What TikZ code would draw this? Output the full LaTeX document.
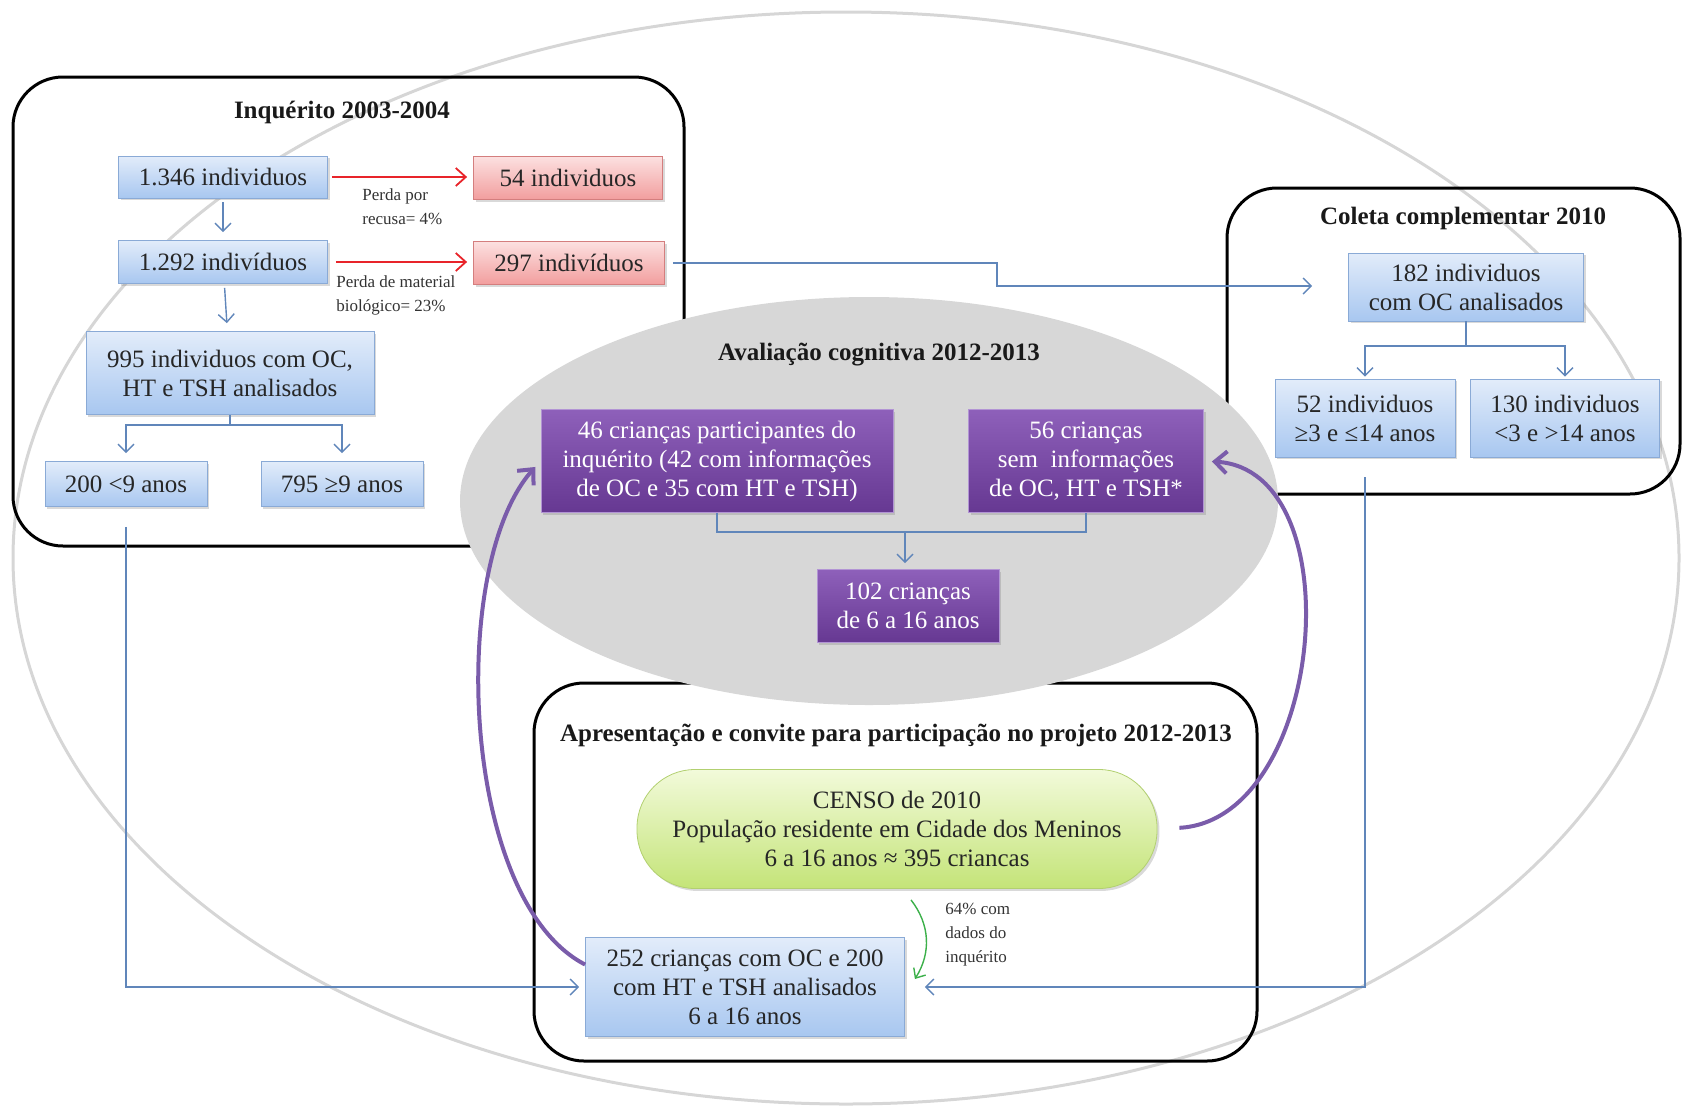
\documentclass[tikz,border=0pt]{standalone}
\usepackage{fontspec}
\setmainfont{Liberation Serif}
\usetikzlibrary{arrows.meta,shadows}

% colours
\definecolor{bluetop}{RGB}{226,236,250}
\definecolor{bluebot}{RGB}{168,199,240}
\definecolor{blueline}{RGB}{138,170,214}
\definecolor{redtop}{RGB}{252,224,224}
\definecolor{redbot}{RGB}{242,158,158}
\definecolor{redline}{RGB}{212,126,126}
\definecolor{purptop}{RGB}{142,96,186}
\definecolor{purpbot}{RGB}{102,56,146}
\definecolor{purpline}{RGB}{178,148,212}
\definecolor{purparrow}{RGB}{122,92,170}
\definecolor{greentop}{RGB}{242,250,218}
\definecolor{greenbot}{RGB}{196,228,120}
\definecolor{greenline}{RGB}{178,208,112}
\definecolor{connblue}{RGB}{96,134,186}
\definecolor{lossred}{RGB}{232,36,42}
\definecolor{okgreen}{RGB}{60,176,74}
\definecolor{outerring}{RGB}{214,214,214}
\definecolor{cogfill}{RGB}{215,215,215}

\tikzset{
  boxtext/.style={font=\rmfamily\fontsize{12.5}{14.5}\selectfont, align=center, inner sep=2pt},
  boxshadow/.style={drop shadow={shadow xshift=1.2pt, shadow yshift=-1.2pt, opacity=.3}},
  bluebox/.style={boxtext, boxshadow, draw=blueline, top color=bluetop, bottom color=bluebot, text=black!85},
  lossbox/.style={boxtext, boxshadow, draw=redline, top color=redtop, bottom color=redbot, text=black!85},
  cogbox/.style={boxtext, boxshadow, draw=purpline, top color=purptop, bottom color=purpbot, text=white},
  censobox/.style={boxtext, boxshadow, draw=greenline, top color=greentop, bottom color=greenbot, rounded corners=29pt, text=black!85},
  stage/.style={draw=black, line width=1.5pt, rounded corners=25pt},
  title/.style={font=\rmfamily\bfseries\fontsize{12.5}{14.5}\selectfont, text=black!90},
  note/.style={font=\rmfamily\fontsize{8.5}{12}\selectfont, align=left, text=black!80, inner sep=0pt, anchor=north west},
  conn/.style={draw=connblue, line width=0.7pt},
  flow/.style={conn, -{Straight Barb[length=4pt,width=8pt]}},
  loss/.style={draw=lossred, line width=0.9pt, -{Straight Barb[length=5pt,width=9pt]}},
  back/.style={draw=purparrow, line width=2pt, -{Straight Barb[length=6pt,width=11pt]}},
}

\begin{document}
\begin{tikzpicture}[x=0.5pt,y=-0.5pt]
\useasboundingbox (0,0) rectangle (1684,1108);

% outer ring
\draw[outerring, line width=1.5pt] (846,558) ellipse [x radius=416.5pt, y radius=273pt];

% study frames
\draw[stage] (13,77) rectangle (684,546);
\draw[stage] (1227,188) rectangle (1680,494);
\draw[stage] (534,683) rectangle (1257,1061);

% cognitive evaluation area
\fill[cogfill] (869,501) ellipse [x radius=204.5pt, y radius=102pt];

% Inquerito 2003-2004
\node[title] (tInq) at (342,112) {Inquérito 2003-2004};
\node[bluebox, minimum width=104.5pt, minimum height=21pt] (n1346) at (223,177) {1.346 individuos};
\node[lossbox, minimum width=94.5pt, minimum height=21.5pt] (n54) at (568,178) {54 individuos};
\node[bluebox, minimum width=104.5pt, minimum height=21.5pt] (n1292) at (223,262) {1.292 indivíduos};
\node[lossbox, minimum width=95.5pt, minimum height=21.5pt] (n297) at (569,263) {297 indivíduos};
\node[bluebox, minimum width=144pt, minimum height=41.5pt] (n995) at (230,373) {995 individuos com OC,\\HT e TSH analisados};
\node[bluebox, minimum width=81pt, minimum height=22.5pt] (n200) at (126,484) {200 <9 anos};
\node[bluebox, minimum width=81pt, minimum height=22.5pt] (n795) at (342,484) {795 ≥9 anos};
\node[note] (lossA) at (362,188) {Perda por\\recusa= 4\%};
\node[note] (lossB) at (336,275) {Perda de material\\biológico= 23\%};

% Coleta complementar 2010
\node[title] (tCol) at (1463,218) {Coleta complementar 2010};
\node[bluebox, minimum width=117.5pt, minimum height=34pt] (n182) at (1466,287) {182 individuos\\com OC analisados};
\node[bluebox, minimum width=90pt, minimum height=39pt] (n52) at (1365,418) {52 individuos\\≥3 e ≤14 anos};
\node[bluebox, minimum width=94.5pt, minimum height=39pt] (n130) at (1565,418) {130 individuos\\<3 e >14 anos};

% Avaliacao cognitiva 2012-2013
\node[title] (tCog) at (879,355) {Avaliação cognitiva 2012-2013};
\node[cogbox, minimum width=176pt, minimum height=51.5pt] (n46) at (717,461) {46 crianças participantes do\\inquérito (42 com informações\\de OC e 35 com HT e TSH)};
\node[cogbox, minimum width=117.5pt, minimum height=51.5pt] (n56) at (1086,461) {56 crianças\\sem~ informações\\de OC, HT e TSH*};
\node[cogbox, minimum width=91pt, minimum height=36.5pt] (n102) at (908,606) {102 crianças\\de 6 a 16 anos};

% Apresentacao e convite 2012-2013
\node[title] (tApr) at (896,735) {Apresentação e convite para participação no projeto 2012-2013};
\node[censobox, minimum width=260pt, minimum height=59.5pt] (censo) at (897,829) {CENSO de 2010\\População residente em Cidade dos Meninos\\6 a 16 anos ≈ 395 criancas};
\node[bluebox, minimum width=159.5pt, minimum height=49.5pt] (n252) at (745,987) {252 crianças com OC e 200\\com HT e TSH analisados\\6 a 16 anos};
\node[note] (note64) at (945,903) {64\% com\\dados do\\inquérito};

% waypoints
\coordinate (kink297) at (997,286);
\coordinate (split995) at (230,425);
\coordinate (split182) at (1466,346);
\coordinate (join46) at (905,532);

% losses
\draw[loss, shorten <=2pt, shorten >=3pt] (n1346.east) -- (n54.west |- n1346.east);
\draw[loss, shorten <=4pt, shorten >=3pt] (n1292.east) -- (n297.west |- n1292.east);

% blue flows
\draw[flow, shorten <=2pt, shorten >=4pt] (n1346) -- (n1292);
\draw[flow, shorten <=2pt, shorten >=4pt] (n1292) -- (n995);
\draw[conn] (n995.south) -- (split995);
\draw[flow, shorten >=4pt] (split995) -| (n200.north);
\draw[flow, shorten >=4pt] (split995) -| (n795.north);
\draw[flow, shorten <=4pt, shorten >=18pt] (n297.east) -| (kink297) -- (kink297 -| n182.west);
\draw[conn] (n182.south) -- (split182);
\draw[flow, shorten >=1pt] (split182) -| (n52.north);
\draw[flow, shorten >=1pt] (split182) -| (n130.north);
\draw[conn] (n46.south) |- (join46) -| (n56.south);
\draw[flow, shorten >=3pt] (join46) -- (join46 |- n102.north);
\draw[flow, shorten <=10pt, shorten >=3pt] (n200.south) |- (n252.west);
\draw[flow, shorten <=10pt, shorten >=10pt] (n52.south) |- (n252.east);

% census to invited children
\draw[okgreen, line width=0.7pt, -{Straight Barb[length=4pt,width=7pt]}]
  ([xshift=7pt,yshift=-5.5pt]censo.south) to[bend left=35] ([xshift=5pt,yshift=4pt]n252.east);

% back to the cognitive evaluation
\draw[back, shorten >=4pt] (n252.172) .. controls (460,900) and (448,565) .. (n46.west);
\draw[back, shorten <=11pt, shorten >=4pt] (censo.east) .. controls (1325,820) and (1355,470) .. (n56.east);

\end{tikzpicture}
\end{document}
